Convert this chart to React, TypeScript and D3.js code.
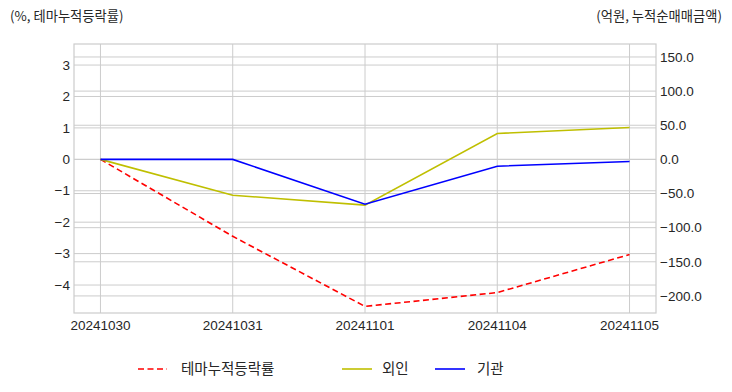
import React from 'react'
import { scaleLinear, line } from 'd3'

// data
const dates = ['20241030', '20241031', '20241101', '20241104', '20241105']
const themeRate = [0, -2.45, -4.68, -4.24, -3.03]
const foreign = [0, -52.5, -67, 38, 46.6]
const inst = [0, 0, -65.6, -10, -3]
const leftTicks = [3, 2, 1, 0, -1, -2, -3, -4]
const rightTicks = [150, 100, 50, 0, -50, -100, -150, -200]

const W = 732
const H = 392
const left = 74
const right = 656
const top = 44
const bottom = 313
const font = "'Liberation Sans', 'Noto Sans CJK KR', sans-serif"
const krFont = "'Noto Sans CJK KR', sans-serif"
const grid = '#cccccc'
const txt = '#262626'

const fmt = (v: number, digits: number) => {
  const s = v.toFixed(digits)
  return v < 0 ? '\u2212' + s.slice(1) : s
}

export default function App() {
  const x = scaleLinear().domain([-0.2, 4.2]).range([left, right])
  const yL = scaleLinear().domain([-4.89, 3.67]).range([bottom, top])
  const yR = scaleLinear().domain([-225, 169]).range([bottom, top])

  const lineL = line<number>()
    .x((d, i) => x(i))
    .y((d) => yL(d))
  const lineR = line<number>()
    .x((d, i) => x(i))
    .y((d) => yR(d))

  return (
    <svg
      width={W}
      height={H}
      style={{ position: 'absolute', left: 0, top: 0, background: '#fff' }}
      fontFamily={font}
    >
      <rect x={0} y={0} width={W} height={H} fill="#fff" />
      {/* grid */}
      {dates.map((d, i) => (
        <line key={d} x1={x(i)} x2={x(i)} y1={top} y2={bottom} stroke={grid} strokeWidth={1} />
      ))}
      {leftTicks.map((t) => (
        <line key={'l' + t} x1={left} x2={right} y1={yL(t)} y2={yL(t)} stroke={grid} strokeWidth={1} />
      ))}
      {rightTicks.map((t) => (
        <line key={'r' + t} x1={left} x2={right} y1={yR(t)} y2={yR(t)} stroke={grid} strokeWidth={1} />
      ))}
      <rect x={left} y={top} width={right - left} height={bottom - top} fill="none" stroke={grid} strokeWidth={1.2} />

      {/* lines */}
      <path d={lineL(themeRate) || ''} fill="none" stroke="#ff0000" strokeWidth={1.6} strokeDasharray="6,3.5" />
      <path d={lineR(foreign) || ''} fill="none" stroke="#bfbf00" strokeWidth={1.6} />
      <path d={lineR(inst) || ''} fill="none" stroke="#0000ff" strokeWidth={1.6} />

      {/* left axis */}
      {leftTicks.map((t) => (
        <text key={'lt' + t} x={70} y={yL(t)} dy="0.35em" textAnchor="end" fontSize={13.5} fill={txt}>
          {fmt(t, 0)}
        </text>
      ))}
      {/* right axis */}
      {rightTicks.map((t) => (
        <text key={'rt' + t} x={660} y={yR(t)} dy="0.35em" textAnchor="start" fontSize={13.5} fill={txt}>
          {fmt(t, 1)}
        </text>
      ))}
      {/* x axis */}
      {dates.map((d, i) => (
        <text key={'xt' + d} x={x(i)} y={330} textAnchor="middle" fontSize={13.5} fill={txt}>
          {d}
        </text>
      ))}

      <text x={10} y={21} fontSize={13.3} fill={txt} fontFamily={krFont}>(%, 테마누적등락률)</text>
      <text x={722} y={21} fontSize={13.3} fill={txt} textAnchor="end" fontFamily={krFont}>(억원, 누적순매매금액)</text>

      {/* legend */}
      <g fontFamily={krFont} fontSize={14.5} fill={txt}>
        <line x1={138} x2={167} y1={369} y2={369} stroke="#ff0000" strokeWidth={1.6} strokeDasharray="6,3.5" />
        <text x={181} y={369} dy="0.35em">테마누적등락률</text>
        <line x1={342} x2={372} y1={369} y2={369} stroke="#bfbf00" strokeWidth={1.6} />
        <text x={382} y={369} dy="0.35em">외인</text>
        <line x1={435} x2={465} y1={369} y2={369} stroke="#0000ff" strokeWidth={1.6} />
        <text x={477} y={369} dy="0.35em">기관</text>
      </g>
    </svg>
  )
}
